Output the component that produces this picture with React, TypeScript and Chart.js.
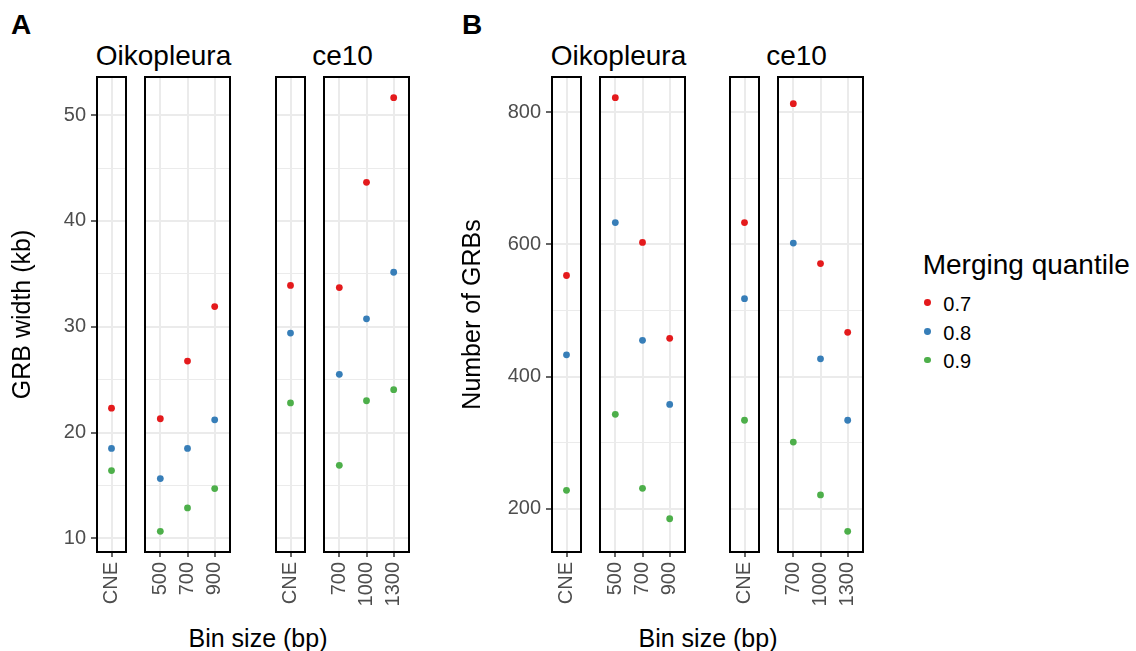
import React, { useEffect, useRef } from 'react';
import { Chart, registerables } from 'chart.js';

Chart.register(...registerables);

const FONT = "'Liberation Sans', Arial, Helvetica, sans-serif";

// Legend / series
const quantiles = ['0.7', '0.8', '0.9'];
const quantileColors = ['#E41A1C', '#377EB8', '#4DAF4A'];

// Categories (x axis of each facet)
const oikCneCats = ['CNE'];
const oikBinCats = ['500', '700', '900'];
const ceCneCats = ['CNE'];
const ceBinCats = ['700', '1000', '1300'];

// Panel A: GRB width (kb); rows = quantile 0.7, 0.8, 0.9
const widthOikCne = [[22.3], [18.5], [16.4]];
const widthOikBins = [
  [21.3, 26.75, 31.9],
  [15.65, 18.5, 21.2],
  [10.66, 12.87, 14.7],
];
const widthCeCne = [[33.9], [29.4], [22.8]];
const widthCeBins = [
  [33.7, 43.65, 51.65],
  [25.5, 30.75, 35.15],
  [16.9, 23.0, 24.05],
];

// Panel B: Number of GRBs; rows = quantile 0.7, 0.8, 0.9
const countOikCne = [[553], [433], [228]];
const countOikBins = [
  [822, 603, 458],
  [633, 455, 358],
  [343, 231, 185],
];
const countCeCne = [[633], [518], [334]];
const countCeBins = [
  [813, 571, 467],
  [602, 427, 334],
  [301, 221, 166],
];

// Tick labels
const widthTicks = [10, 20, 30, 40, 50];
const countTicks = [200, 400, 600, 800];

// Layout constants
const BOX_TOP = 76;
const BOX_H = 477;
const X_AXIS_H = 64;

function expandedRange(groups: number[][][]) {
  const all = groups.flat(2);
  const lo = Math.min(...all);
  const hi = Math.max(...all);
  const pad = (hi - lo) * 0.05;
  return [lo - pad, hi + pad];
}

function minorTicks(major: number[]) {
  const out: number[] = [];
  const step = major[1] - major[0];
  out.push(major[0] - step / 2);
  for (let i = 0; i < major.length - 1; i++) out.push((major[i] + major[i + 1]) / 2);
  out.push(major[major.length - 1] + step / 2);
  return out;
}

const boxPlugin = {
  id: 'panelBox',
  afterDraw(chart: any) {
    const { ctx, chartArea: a } = chart;
    ctx.save();
    ctx.strokeStyle = '#000';
    ctx.lineWidth = 2;
    ctx.strokeRect(a.left + 1, a.top + 1, a.right - a.left - 2, a.bottom - a.top - 2);
    ctx.restore();
  },
};

type FacetProps = {
  left: number;
  width: number;
  yAxisW: number;
  cats: string[];
  values: number[][];
  yMin: number;
  yMax: number;
  major: number[];
  yTitle?: string;
};

function Facet({ left, width, yAxisW, cats, values, yMin, yMax, major, yTitle }: FacetProps) {
  const ref = useRef<HTMLCanvasElement>(null);
  const cw = yAxisW + width;
  const ch = BOX_H + X_AXIS_H;
  useEffect(() => {
    const minor = minorTicks(major);
    const isMajor = (v: number) => major.some((m) => Math.abs(m - v) < 1e-9);
    const chart = new Chart(ref.current as HTMLCanvasElement, {
      type: 'line',
      data: {
        labels: cats,
        datasets: values.map((vals, i) => ({
          label: quantiles[i],
          data: vals,
          showLine: false,
          pointRadius: 3.4,
          pointHoverRadius: 3.4,
          pointBackgroundColor: quantileColors[i],
          pointBorderWidth: 0,
          borderColor: quantileColors[i],
          backgroundColor: quantileColors[i],
        })),
      },
      options: {
        responsive: false,
        animation: false,
        devicePixelRatio: 1,
        events: [],
        layout: { padding: 0, autoPadding: false },
        plugins: { legend: { display: false }, tooltip: { enabled: false } },
        scales: {
          x: {
            type: 'category',
            offset: true,
            afterBuildTicks: (s: any) => {
              // ggplot-style discrete expansion: 0.6 category units on each side
              s._startValue = s.min - 0.6;
              s._valueRange = s.max - s.min + 1.2;
            },
            grid: {
              offset: false,
              color: '#ebebeb',
              lineWidth: 2,
              drawTicks: true,
              tickLength: 4,
              tickColor: '#333333',
              tickWidth: 1.5,
            },
            border: { display: false },
            ticks: {
              minRotation: 90,
              maxRotation: 90,
              autoSkip: false,
              padding: 5,
              color: '#4d4d4d',
              font: { size: 20, family: FONT },
            },
            afterFit: (s: any) => {
              s.height = X_AXIS_H;
              s.paddingLeft = 0;
              s.paddingRight = 0;
            },
          },
          y: {
            type: 'linear',
            min: yMin,
            max: yMax,
            afterBuildTicks: (s: any) => {
              s.ticks = [...major, ...minor]
                .filter((v) => v >= yMin && v <= yMax)
                .sort((a, b) => a - b)
                .map((v) => ({ value: v }));
            },
            ticks: {
              display: yAxisW > 0,
              callback: (v: any) => (isMajor(Number(v)) ? String(v) : ''),
              padding: 5,
              color: '#4d4d4d',
              font: { size: 20, family: FONT },
            },
            grid: {
              color: '#ebebeb',
              lineWidth: (c: any) => (c.tick && isMajor(c.tick.value) ? 2 : 1),
              drawTicks: yAxisW > 0,
              tickLength: 5,
              tickColor: (c: any) => (c.tick && isMajor(c.tick.value) ? '#333333' : 'rgba(0,0,0,0)'),
              tickWidth: 1.5,
            },
            border: { display: false },
            title: {
              display: !!yTitle,
              text: yTitle || '',
              color: '#000',
              font: { size: 25, family: FONT },
              padding: { top: 8, bottom: 0 },
            },
            afterFit: (s: any) => {
              s.width = yAxisW;
              s.paddingTop = 0;
              s.paddingBottom = 0;
            },
          },
        },
      } as any,
      plugins: [boxPlugin],
    });
    return () => chart.destroy();
  }, []);
  return (
    <canvas
      ref={ref}
      width={cw}
      height={ch}
      style={{ position: 'absolute', left: left - yAxisW, top: BOX_TOP, width: cw, height: ch }}
    />
  );
}

function Text({ x, baseline, size, children, bold, center, w }: any) {
  const top = baseline - 0.8465 * size;
  const style: React.CSSProperties = {
    position: 'absolute',
    top,
    fontFamily: FONT,
    fontSize: size,
    lineHeight: `${size}px`,
    fontWeight: bold ? 'bold' : 'normal',
    whiteSpace: 'nowrap',
    color: '#000',
  };
  if (center) {
    style.left = x - w / 2;
    style.width = w;
    style.textAlign = 'center';
  } else {
    style.left = x;
  }
  return <div style={style}>{children}</div>;
}

export default function App() {
  const [wMin, wMax] = expandedRange([widthOikCne, widthOikBins, widthCeCne, widthCeBins]);
  const [cMin, cMax] = expandedRange([countOikCne, countOikBins, countCeCne, countCeBins]);

  return (
    <div style={{ position: 'absolute', left: 0, top: 0, width: 1136, height: 651, background: '#fff' }}>
      {/* Panel labels */}
      <Text x={11} baseline={35} size={28} bold>A</Text>
      <Text x={462} baseline={35} size={28} bold>B</Text>

      {/* Strip titles */}
      <Text x={163.5} baseline={65.3} size={28} center w={200}>Oikopleura</Text>
      <Text x={342.5} baseline={65.3} size={28} center w={200}>ce10</Text>
      <Text x={618.5} baseline={65.3} size={28} center w={200}>Oikopleura</Text>
      <Text x={796.5} baseline={65.3} size={28} center w={200}>ce10</Text>

      {/* Panel A */}
      <Facet left={96} width={31} yAxisW={96} cats={oikCneCats} values={widthOikCne} yMin={wMin} yMax={wMax} major={widthTicks} yTitle="GRB width (kb)" />
      <Facet left={144} width={87} yAxisW={0} cats={oikBinCats} values={widthOikBins} yMin={wMin} yMax={wMax} major={widthTicks} />
      <Facet left={275} width={31} yAxisW={0} cats={ceCneCats} values={widthCeCne} yMin={wMin} yMax={wMax} major={widthTicks} />
      <Facet left={323} width={87} yAxisW={0} cats={ceBinCats} values={widthCeBins} yMin={wMin} yMax={wMax} major={widthTicks} />

      {/* Panel B */}
      <Facet left={551} width={31} yAxisW={101} cats={oikCneCats} values={countOikCne} yMin={cMin} yMax={cMax} major={countTicks} yTitle="Number of GRBs" />
      <Facet left={599} width={87} yAxisW={0} cats={oikBinCats} values={countOikBins} yMin={cMin} yMax={cMax} major={countTicks} />
      <Facet left={729} width={31} yAxisW={0} cats={ceCneCats} values={countCeCne} yMin={cMin} yMax={cMax} major={countTicks} />
      <Facet left={777} width={87} yAxisW={0} cats={ceBinCats} values={countCeBins} yMin={cMin} yMax={cMax} major={countTicks} />

      {/* X axis titles */}
      <Text x={258} baseline={646.7} size={25} center w={240}>Bin size (bp)</Text>
      <Text x={708} baseline={646.7} size={25} center w={240}>Bin size (bp)</Text>

      {/* Legend */}
      <Text x={922.7} baseline={275} size={28}>Merging quantile</Text>
      {quantiles.map((q, i) => (
        <React.Fragment key={q}>
          <div
            style={{
              position: 'absolute',
              left: 927.7 - 3.4,
              top: 302.7 + i * 28.7 - 3.4,
              width: 6.8,
              height: 6.8,
              borderRadius: '50%',
              background: quantileColors[i],
            }}
          />
          <Text x={943.3} baseline={311 + i * 28.7} size={20}>{q}</Text>
        </React.Fragment>
      ))}
    </div>
  );
}
